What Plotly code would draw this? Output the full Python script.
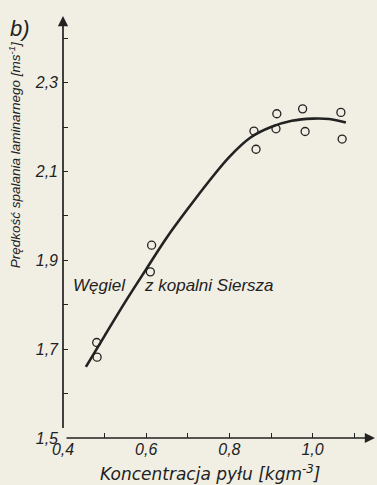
import plotly.graph_objects as go

# measured points
pts_x = [0.481, 0.482, 0.613, 0.610, 0.859, 0.864, 0.914, 0.912, 0.976, 0.982, 1.068, 1.071]
pts_y = [1.715, 1.682, 1.934, 1.874, 2.191, 2.150, 2.230, 2.196, 2.241, 2.190, 2.233, 2.173]

# fitted curve
curve_x = [0.455, 0.50, 0.55, 0.60, 0.65, 0.70, 0.75, 0.80, 0.85, 0.90, 0.95, 1.00, 1.04, 1.08]
curve_y = [1.660, 1.730, 1.807, 1.880, 1.952, 2.016, 2.077, 2.133, 2.176, 2.200, 2.214, 2.219, 2.218, 2.210]

x_ticks = [0.4, 0.6, 0.8, 1.0]
x_labels = ["0,4", "0,6", "0,8", "1,0"]
y_ticks = [1.5, 1.7, 1.9, 2.1, 2.3]
y_labels = ["1,5", "1,7", "1,9", "2,1", "2,3"]

BG = "#f1efe4"
INK = "#222222"
FONT = "Liberation Sans"
WIDE = "DejaVu Sans"
NARROW = "Liberation Sans Narrow, Liberation Sans"

fig = go.Figure()
fig.add_trace(go.Scatter(x=curve_x, y=curve_y, mode="lines",
                         line=dict(color=INK, width=2.6, shape="spline", smoothing=1.0),
                         hoverinfo="skip", showlegend=False))
fig.add_trace(go.Scatter(x=pts_x, y=pts_y, mode="markers",
                         marker=dict(symbol="circle-open", size=8, color=INK, line=dict(width=1.3)),
                         showlegend=False))

XR = [0.4, 1.15]
YR = [1.5, 2.45]

ann = []
# axis arrows
ann.append(dict(x=XR[1], y=YR[0], ax=XR[0], ay=YR[0], xref="x", yref="y", axref="x", ayref="y",
                showarrow=True, arrowhead=2, arrowsize=1.2, arrowwidth=1.7, arrowcolor=INK, text=" "))
ann.append(dict(x=XR[0], y=YR[1], ax=XR[0], ay=YR[0], xref="x", yref="y", axref="x", ayref="y",
                showarrow=True, arrowhead=2, arrowsize=1.2, arrowwidth=1.7, arrowcolor=INK, text=" "))
# labels
lab = dict(family=FONT, size=17, color=INK, style="italic")
ann.append(dict(x=-0.176, y=1.005, xref="paper", yref="paper", xanchor="left", yanchor="top",
                text="b)", showarrow=False, font=dict(family=FONT, size=22, color=INK, style="italic")))
ann.append(dict(x=0.5556, y=1.843, xref="x", yref="y", xanchor="right", yanchor="middle",
                text="Węgiel", showarrow=False, font=lab))
ann.append(dict(x=0.590, y=1.843, xref="x", yref="y", xanchor="left", yanchor="middle",
                text="z kopalni Siersza", showarrow=False, font=lab))
ann.append(dict(x=0.474, y=-0.083, xref="paper", yref="paper", xanchor="center", yanchor="middle",
                text="Koncentracja pyłu [kgm<sup>-3</sup>]", showarrow=False,
                font=dict(family=WIDE, size=17, color=INK, style="italic")))
ann.append(dict(x=-0.154, y=0.672, xref="paper", yref="paper", xanchor="center", yanchor="middle",
                textangle=-90, text="Prędkość spalania laminarnego [ms<sup>-1</sup>]",
                showarrow=False, font=dict(family=NARROW, size=13.5, color=INK, style="italic")))

tickfont = dict(family=FONT, size=16, color=INK, style="italic")
fig.update_layout(
    width=377, height=485,
    margin=dict(l=63, r=2, t=16, b=47),
    paper_bgcolor=BG, plot_bgcolor=BG,
    font=dict(family=FONT, size=16, color=INK, style="italic"),
    annotations=ann,
    xaxis=dict(range=XR, tickvals=x_ticks, ticktext=x_labels, ticks="inside", ticklen=5,
               tickwidth=1.2, tickcolor=INK, showgrid=False, zeroline=False, showline=False,
               tickfont=tickfont,
               minor=dict(tick0=0.4, dtick=0.1, ticks="inside", ticklen=5, tickwidth=1.2,
                          tickcolor=INK, showgrid=False)),
    yaxis=dict(range=YR, tickvals=y_ticks, ticktext=y_labels, ticks="inside", ticklen=5,
               tickwidth=1.2, tickcolor=INK, showgrid=False, zeroline=False, showline=False,
               tickfont=tickfont, ticklabelstandoff=4,
               minor=dict(tick0=1.5, dtick=0.1, ticks="inside", ticklen=5, tickwidth=1.2,
                          tickcolor=INK, showgrid=False)),
)

fig.write_html("out.html", config={"displayModeBar": False})
with open("out.html", "r", encoding="utf-8") as f:
    html = f.read()
html = html.replace("<body>", '<body style="margin:0;padding:0;overflow:hidden">', 1)
with open("out.html", "w", encoding="utf-8") as f:
    f.write(html)
